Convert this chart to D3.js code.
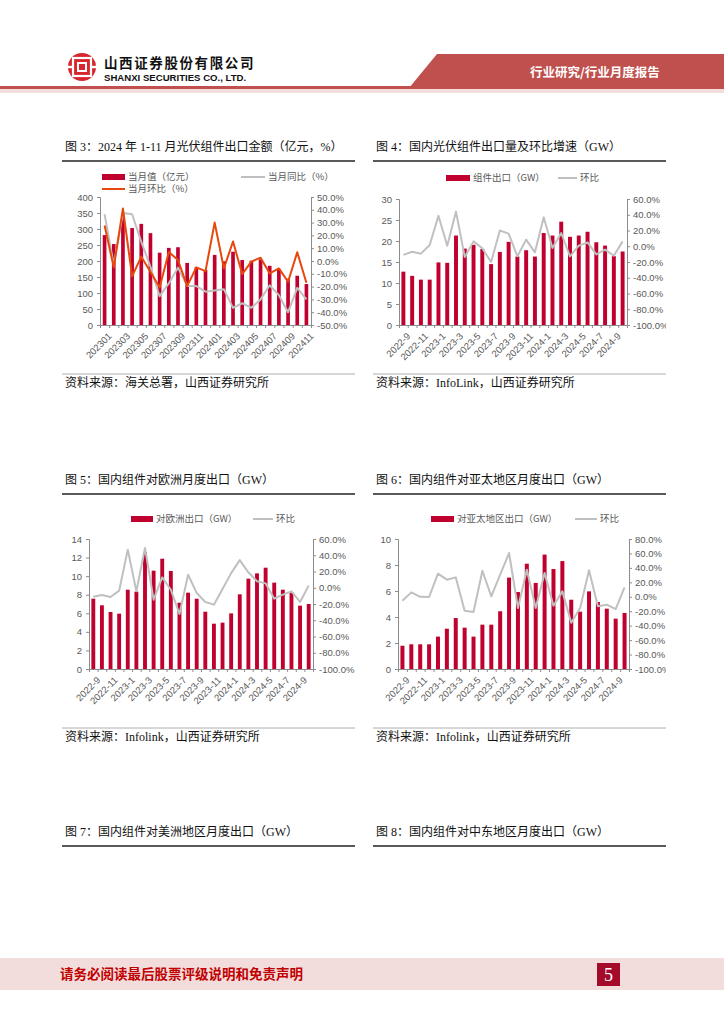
<!DOCTYPE html>
<html><head><meta charset="utf-8">
<script src="https://cdn.jsdelivr.net/npm/d3@7"></script>
<style>
html,body{margin:0;padding:0;background:#fff;}
svg{display:block;}
</style></head>
<body>
<svg id="page" width="724" height="1024"></svg>
<script>
// ---------------- DATA ----------------
const c1Months = ["202301","202302","202303","202304","202305","202306","202307","202308","202309","202310","202311","202312",
  "202401","202402","202403","202404","202405","202406","202407","202408","202409","202410","202411"];
const c1Value = [281,253,335,303,316,287,226,241,243,194,180,172,219,199,229,203,201,205,185,175,145,154,128];
const c1YoY = [36.5,-3,37.5,36.5,15,-4.5,-27.5,-17.5,-5.2,-19.6,-19.6,-24,-23,-22,-36.6,-33,-36.6,-30,-19,-26.7,-40,-21,-30];
const c1MoM = [27.7,-5,41,-12,3.4,-8.4,-20.7,7,0.8,-19.6,-5,-7.9,30,-5.8,15.2,-10.2,-0.5,2.6,-9.7,-5.8,-16.2,6.8,-17];

const months26 = ["2022-9","2022-10","2022-11","2022-12","2023-1","2023-2","2023-3","2023-4","2023-5","2023-6","2023-7","2023-8",
  "2023-9","2023-10","2023-11","2023-12","2024-1","2024-2","2024-3","2024-4","2024-5","2024-6","2024-7","2024-8","2024-9","2024-10"];

const c2Export = [12.7,11.7,10.8,10.8,14.9,14.8,21.3,18.2,19.1,18.1,14.5,17.4,19.8,16.3,17.8,16.3,21.9,21.3,24.6,21.0,21.3,22.2,19.7,18.9,16.4,17.5];
const c2MoM = [-11,-7,-9.4,1.6,38.8,0.7,44,-13.7,6.2,-2.6,-20,20,16,-12.8,8.4,-7.7,36.7,-2.2,16.8,-12.8,0.7,5,-10.3,-4.3,-12,6.2];

const c5Europe = [7.57,6.86,6.14,5.96,8.54,8.33,12.6,10.59,11.88,10.55,7.14,8.22,7.57,6.17,4.88,4.99,5.99,8.04,9.73,10.30,10.91,9.30,8.54,8.22,6.82,7.0];
const c5MoM = [-11,-9,-11.4,-3.6,46.9,-4.4,49,-14.7,12.8,-2.4,-32.3,16.1,-6.5,-17.5,-20.8,-1.5,18,34,19,8,5.4,-13.4,-8.5,-4.4,-17.5,2.6];

const c6Asia = [1.79,1.9,1.9,1.9,2.49,3.1,3.92,3.18,2.49,3.41,3.41,4.44,7.03,5.92,8.1,6.62,8.8,7.69,8.3,5.33,4.41,5.97,5.15,4.64,3.87,4.31];
const c6MoM = [-5.4,6.1,0,-0.3,32,23.7,26.9,-19.2,-21,36,0.6,30.6,60.6,-15.5,37.5,-15.5,33,-12.3,7.5,-36,-15.5,36.6,-13.2,-11,-17,13];

const c1LeftTicks = [0,50,100,150,200,250,300,350,400];
const c1RightTicks = [-50,-40,-30,-20,-10,0,10,20,30,40,50];
const c2LeftTicks = [0,5,10,15,20,25,30];
const c5LeftTicks = [0,2,4,6,8,10,12,14];
const c6LeftTicks = [0,2,4,6,8,10];
const pctTicks60 = [-100,-80,-60,-40,-20,0,20,40,60];
const pctTicks80 = [-100,-80,-60,-40,-20,0,20,40,60,80];

// ---------------- STYLE ----------------
const BAR = "#c0002f", GRAY = "#c0c0c0", ORANGE = "#e8470c", TXT = "#595959", AX = "#8c8c8c";
const SANS = "'Liberation Sans', Arial, 'Noto Sans CJK SC', sans-serif";
const CJK = "'Noto Sans CJK SC', sans-serif";
const SERIF = "'Liberation Serif', 'Times New Roman', 'Noto Sans CJK SC', serif";

const svg = d3.select("#page");

// ---------------- HEADER ----------------
const hdr = svg.append("g");
hdr.append("polygon").attr("points","437,54 724,54 724,88 409,88").attr("fill","#c0504d");
hdr.append("rect").attr("x",0).attr("y",86).attr("width",724).attr("height",3).attr("fill","#c0504d");
hdr.append("rect").attr("x",0).attr("y",89).attr("width",724).attr("height",4).attr("fill","#f3dede");
hdr.append("text").attr("x",530).attr("y",77).attr("fill","#fff").attr("font-family",CJK).attr("font-weight","bold")
  .attr("font-size",12.5).text("行业研究/行业月度报告");
// logo
const lg = hdr.append("g").attr("transform","translate(82,67)");
lg.append("circle").attr("r",14).attr("fill","#d7262e");
lg.append("rect").attr("x",-9).attr("y",-9).attr("width",18).attr("height",18).attr("fill","none").attr("stroke","#fff").attr("stroke-width",2.2);
lg.append("rect").attr("x",-4).attr("y",-4).attr("width",8).attr("height",8).attr("fill","none").attr("stroke","#fff").attr("stroke-width",2);
lg.append("rect").attr("x",-15).attr("y",-1.2).attr("width",6).attr("height",2.4).attr("fill","#fff");
lg.append("rect").attr("x",9).attr("y",-1.2).attr("width",6).attr("height",2.4).attr("fill","#fff");
hdr.append("text").attr("x",104).attr("y",68).attr("fill","#111").attr("font-family",CJK).attr("font-weight","bold")
  .attr("font-size",13.5).attr("letter-spacing",1.6).text("山西证券股份有限公司");
hdr.append("text").attr("x",104).attr("y",81).attr("fill","#111").attr("font-family",SANS).attr("font-weight","bold")
  .attr("font-size",9.6).text("SHANXI SECURITIES CO., LTD.");

// ---------------- FOOTER ----------------
svg.append("rect").attr("x",0).attr("y",958).attr("width",724).attr("height",32).attr("fill","#f2dcdc");
svg.append("text").attr("x",60).attr("y",979).attr("fill","#c00000").attr("font-family",SERIF).attr("font-weight","bold")
  .attr("font-size",13.5).text("请务必阅读最后股票评级说明和免责声明");
svg.append("rect").attr("x",597).attr("y",963).attr("width",23).attr("height",23).attr("fill","#a50a2a");
svg.append("text").attr("x",608.5).attr("y",981).attr("text-anchor","middle").attr("fill","#fff").attr("font-family",SERIF)
  .attr("font-size",18).text("5");

// ---------------- CAPTIONS ----------------
function caption(x, y, txt, x2){
  svg.append("text").attr("x",x).attr("y",y).attr("fill","#111").attr("font-family",SERIF).attr("font-size",12).text(txt);
  svg.append("line").attr("x1",x-3).attr("x2",x2).attr("y1",y+10).attr("y2",y+10).attr("stroke","#222").attr("stroke-width",1.3);
}
function source(x, y, txt, x2){
  svg.append("line").attr("x1",x-3).attr("x2",x2).attr("y1",y-13).attr("y2",y-13).attr("stroke","#999").attr("stroke-width",0.8);
  svg.append("text").attr("x",x).attr("y",y).attr("fill","#111").attr("font-family",SERIF).attr("font-size",12).text(txt);
}
caption(65,151,"图 3：2024 年 1-11 月光伏组件出口金额（亿元，%）",355);
caption(376,151,"图 4：国内光伏组件出口量及环比增速（GW）",666);
caption(65,484,"图 5：国内组件对欧洲月度出口（GW）",355);
caption(376,484,"图 6：国内组件对亚太地区月度出口（GW）",666);
caption(65,836,"图 7：国内组件对美洲地区月度出口（GW）",355);
caption(376,836,"图 8：国内组件对中东地区月度出口（GW）",666);
source(65,387,"资料来源：海关总署，山西证券研究所",355);
source(376,387,"资料来源：InfoLink，山西证券研究所",666);
source(65,741,"资料来源：Infolink，山西证券研究所",355);
source(376,741,"资料来源：Infolink，山西证券研究所",666);

// ---------------- CHART ----------------
let clipId = 0;
function drawChart(o){
  const g0 = svg.append("g");
  if (o.clipRight){
    const id = "clip"+(clipId++);
    svg.append("clipPath").attr("id",id).append("rect").attr("x",0).attr("y",0).attr("width",o.clipRight).attr("height",1024);
    g0.attr("clip-path","url(#"+id+")");
  }
  const x = d3.scaleBand().domain(o.cats).range([o.x0,o.x1]).paddingInner(o.pad).paddingOuter(o.pad/2);
  const yL = d3.scaleLinear().domain([o.leftTicks[0], o.leftTicks[o.leftTicks.length-1]]).range([o.yb,o.yt]);
  const yR = d3.scaleLinear().domain([o.rightTicks[0], o.rightTicks[o.rightTicks.length-1]]).range([o.yb,o.yt]);

  g0.selectAll(null).data(o.bars).enter().append("rect")
    .attr("x",(d,i)=>x(o.cats[i])).attr("width",x.bandwidth())
    .attr("y",d=>yL(d)).attr("height",d=>o.yb-yL(d)).attr("fill",BAR);

  o.lines.forEach(L=>{
    const ln = d3.line().x((d,i)=>x(o.cats[i])+x.bandwidth()/2).y(d=>yR(d));
    g0.append("path").attr("d",ln(L.data)).attr("fill","none").attr("stroke",L.color).attr("stroke-width",L.w||2)
      .attr("stroke-linejoin","round");
  });

  const la = d3.axisLeft(yL).tickValues(o.leftTicks).tickSize(3).tickPadding(4).tickFormat(d3.format("d"));
  const lag = g0.append("g").attr("transform","translate("+o.x0+",0)").call(la);
  const ra = d3.axisRight(yR).tickValues(o.rightTicks).tickSize(3).tickPadding(3).tickFormat(d=>d.toFixed(1)+"%");
  const rag = g0.append("g").attr("transform","translate("+o.x1+",0)").call(ra);
  const bx = d3.scaleLinear().domain([0,o.cats.length]).range([o.x0,o.x1]);
  const ba = d3.axisBottom(bx).tickValues(d3.range(0,o.cats.length+1)).tickSize(3).tickFormat("");
  const bag = g0.append("g").attr("transform","translate(0,"+o.yb+")").call(ba);
  [lag,rag,bag].forEach(a=>{
    a.select(".domain").attr("stroke",AX);
    a.selectAll(".tick line").attr("stroke",AX);
    a.selectAll("text").attr("fill",TXT).attr("font-family",SANS).attr("font-size",o.fs||9.5);
  });
  g0.selectAll(null).data(o.cats.filter((d,i)=>i%2===0)).enter().append("text")
    .attr("transform",d=>"translate("+(x(d)+x.bandwidth()/2+3)+","+(o.yb+7)+") rotate(-45)")
    .attr("text-anchor","end").attr("dy","0.7em").attr("fill",TXT).attr("font-family",SANS).attr("font-size",o.fs||9.5)
    .text(d=>d);

  o.legend.forEach(l=>{
    if (l.type==="bar") g0.append("rect").attr("x",l.x).attr("y",l.y-3).attr("width",l.w).attr("height",6).attr("fill",BAR);
    else g0.append("line").attr("x1",l.x).attr("x2",l.x+l.w).attr("y1",l.y).attr("y2",l.y).attr("stroke",l.color).attr("stroke-width",2);
    g0.append("text").attr("x",l.x+l.w+3).attr("y",l.y).attr("dy","0.35em").attr("fill",TXT).attr("font-family",CJK)
      .attr("font-size",9.5).text(l.text);
  });
}

drawChart({cats:c1Months, bars:c1Value, x0:100, x1:311, yt:197, yb:325, pad:0.6,
  leftTicks:c1LeftTicks, rightTicks:c1RightTicks, fs:9.5,
  lines:[{data:c1YoY,color:GRAY},{data:c1MoM,color:ORANGE}],
  legend:[{type:"bar",x:102,y:177,w:23,text:"当月值（亿元）"},{type:"line",x:241,y:177,w:24,color:GRAY,text:"当月同比（%）"},
          {type:"line",x:102,y:189,w:23,color:ORANGE,text:"当月环比（%）"}]});

drawChart({cats:months26, bars:c2Export, x0:399, x1:627, yt:199, yb:325, pad:0.55, clipRight:666,
  leftTicks:c2LeftTicks, rightTicks:pctTicks60,
  lines:[{data:c2MoM,color:GRAY}],
  legend:[{type:"bar",x:446,y:178,w:24,text:"组件出口（GW）"},{type:"line",x:558,y:178,w:19,color:GRAY,text:"环比"}]});

drawChart({cats:months26, bars:c5Europe, x0:89, x1:313, yt:539, yb:669, pad:0.55,
  leftTicks:c5LeftTicks, rightTicks:pctTicks60,
  lines:[{data:c5MoM,color:GRAY}],
  legend:[{type:"bar",x:131,y:519,w:22,text:"对欧洲出口（GW）"},{type:"line",x:253,y:519,w:20,color:GRAY,text:"环比"}]});

drawChart({cats:months26, bars:c6Asia, x0:398, x1:629, yt:539, yb:669, pad:0.55, clipRight:666,
  leftTicks:c6LeftTicks, rightTicks:pctTicks80,
  lines:[{data:c6MoM,color:GRAY}],
  legend:[{type:"bar",x:431,y:519,w:23,text:"对亚太地区出口（GW）"},{type:"line",x:575,y:519,w:22,color:GRAY,text:"环比"}]});
</script>
</body></html>
